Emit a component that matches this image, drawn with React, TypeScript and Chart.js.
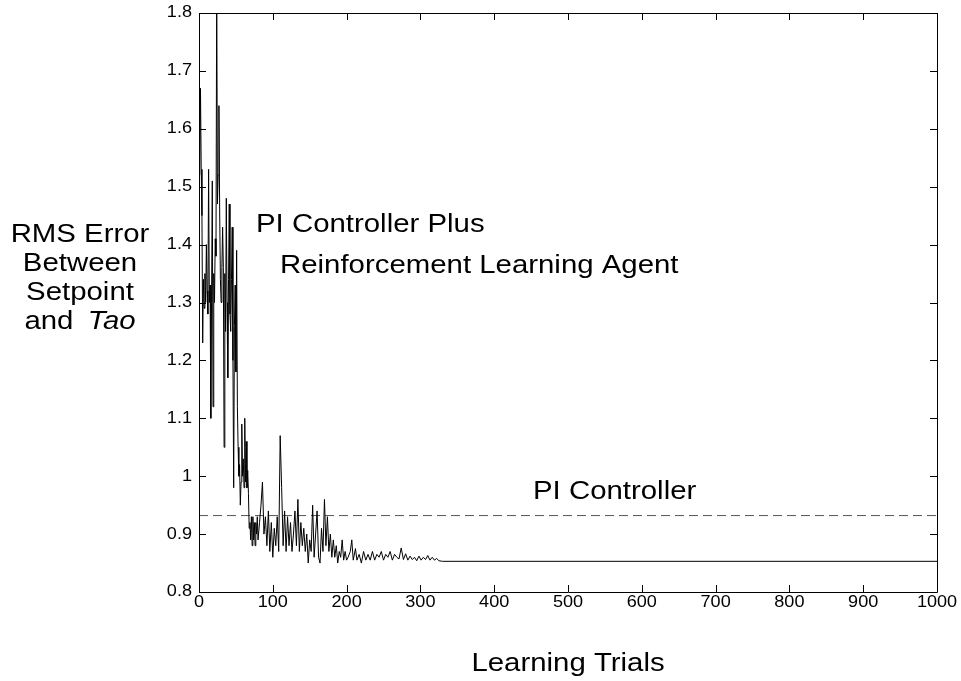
import React, { useEffect, useRef } from "react";
import { Chart, registerables } from "chart.js";

Chart.register(...registerables);

const trials = [
  1, 2, 3, 4, 5, 6, 7, 8, 9, 10, 11, 12, 13, 14, 15, 16, 17, 18, 19, 20,
  21, 22, 23, 24, 25, 26, 27, 28, 29, 30, 31, 32, 33, 34, 35, 36, 37, 38, 39, 40,
  41, 42, 43, 44, 45, 46, 47, 48, 49, 50, 51, 52, 53, 54, 55, 56, 57, 58, 59, 60,
  61, 62, 63, 64, 65, 66, 67, 68, 69, 70, 71, 72, 73, 74, 75, 76, 77, 78, 79, 80,
  82, 84, 86, 88, 90, 92, 94, 96, 98, 100, 102, 104, 106, 108, 110, 112, 114, 116, 118, 120,
  122, 124, 126, 128, 130, 132, 134, 136, 138, 140, 142, 144, 146, 148, 150, 152, 154, 156, 158, 160,
  162, 164, 166, 168, 170, 172, 174, 176, 178, 180, 182, 184, 186, 188, 190, 192, 194, 196, 198, 200,
  202, 205, 207, 209, 212, 214, 217, 220, 223, 226, 229, 232, 235, 238, 241, 244, 247, 250, 253, 256,
  259, 262, 265, 268, 271, 274, 277, 280, 283, 286, 289, 292, 295, 298, 301, 304, 307, 310, 313, 316,
  319, 322, 325, 330, 1000,
];

const rmsError = [
  1.52, 1.67, 1.53, 1.45, 1.23, 1.34, 1.29, 1.35, 1.3, 1.4, 1.32, 1.28, 1.53, 1.3, 1.33, 1.1, 1.3, 1.51, 1.12, 1.35,
  1.3, 1.41, 1.38, 1.85, 1.47, 1.52, 1.64, 1.46, 1.34, 1.3, 1.36, 1.43, 1.36, 1.05, 1.35, 1.25, 1.48, 1.3, 1.17, 1.34,
  1.47, 1.28, 1.25, 1.34, 1.43, 1.2, 0.98, 1.26, 1.33, 1.18, 1.39, 1.12, 1.05, 1.0, 1.02, 0.95, 0.99, 1.09, 1.0, 1.03,
  0.98, 1.1, 0.99, 1.06, 0.98, 1.01, 0.97, 0.91, 0.92, 0.89, 0.93, 0.88, 0.93, 0.89, 0.92, 0.88, 0.92, 0.9, 0.93, 0.89,
  0.92, 0.95, 0.99, 0.9, 0.93, 0.88, 0.94, 0.87, 0.92, 0.86, 0.91, 0.88, 0.93, 0.87, 1.07, 0.98, 0.88, 0.94, 0.87, 0.93,
  0.88, 0.92, 0.87, 0.9, 0.94, 0.88, 0.96, 0.87, 0.92, 0.88, 0.91, 0.87, 0.9, 0.85, 0.89, 0.87, 0.95, 0.86, 0.9, 0.94,
  0.86, 0.85, 0.91, 0.87, 0.96, 0.88, 0.93, 0.87, 0.9, 0.86, 0.89, 0.86, 0.88, 0.85, 0.87, 0.86, 0.89, 0.855, 0.87, 0.855,
  0.86, 0.87, 0.89, 0.855, 0.875, 0.855, 0.865, 0.85, 0.87, 0.855, 0.865, 0.855, 0.87, 0.855, 0.865, 0.86, 0.87, 0.855, 0.865, 0.86,
  0.87, 0.855, 0.865, 0.86, 0.857, 0.876, 0.856, 0.866, 0.855, 0.862, 0.856, 0.86, 0.854, 0.862, 0.855, 0.86, 0.856, 0.863, 0.855, 0.86,
  0.855, 0.858, 0.854, 0.853, 0.853,
];

const piTrials = [0, 1000];
const piError = [0.932, 0.932];

const xTickValues = [0, 100, 200, 300, 400, 500, 600, 700, 800, 900, 1000];
const xTickLabels = ["0", "100", "200", "300", "400", "500", "600", "700", "800", "900", "1000"];
const yTickValues = [0.8, 0.9, 1.0, 1.1, 1.2, 1.3, 1.4, 1.5, 1.6, 1.7, 1.8];
const yTickLabels = ["0.8", "0.9", "1", "1.1", "1.2", "1.3", "1.4", "1.5", "1.6", "1.7", "1.8"];

const yTitleLines = ["RMS Error", "Between", "Setpoint"];
const yTitleLastPlain = "and ";
const yTitleLastItalic = "Tao";
const xTitle = "Learning Trials";
const rlLabel1 = "PI Controller Plus";
const rlLabel2 = "Reinforcement Learning Agent";
const piLabel = "PI Controller";

const FAMILY = '"Liberation Sans", Arial, Helvetica, sans-serif';
const SX = 1.13;

function drawText(ctx: CanvasRenderingContext2D, text: string, x: number, y: number, align: CanvasTextAlign, font: string, baseline: CanvasTextBaseline = "alphabetic") {
  ctx.save();
  ctx.font = font;
  ctx.textAlign = align;
  ctx.textBaseline = baseline;
  ctx.fillStyle = "#000";
  ctx.translate(x, y);
  ctx.scale(SX, 1);
  ctx.fillText(text, 0, 0);
  ctx.restore();
}

const framePlugin = {
  id: "matlabFrame",
  afterDraw(chart: any) {
    const ctx: CanvasRenderingContext2D = chart.ctx;
    const { left, right, top, bottom } = chart.chartArea;
    const xs = chart.scales.x;
    const ys = chart.scales.y;
    ctx.save();
    ctx.strokeStyle = "#000";
    ctx.lineWidth = 1;
    // box
    ctx.beginPath();
    ctx.rect(Math.round(left) + 0.5, Math.round(top) + 0.5, Math.round(right - left), Math.round(bottom - top));
    ctx.stroke();
    // ticks
    const TL = 7;
    ctx.beginPath();
    xTickValues.forEach((v) => {
      const px = Math.round(xs.getPixelForValue(v)) + 0.5;
      ctx.moveTo(px, bottom);
      ctx.lineTo(px, bottom - TL);
      ctx.moveTo(px, top);
      ctx.lineTo(px, top + TL);
    });
    yTickValues.forEach((v) => {
      const py = Math.round(ys.getPixelForValue(v)) + 0.5;
      ctx.moveTo(left, py);
      ctx.lineTo(left + TL, py);
      ctx.moveTo(right, py);
      ctx.lineTo(right - TL, py);
    });
    ctx.stroke();
    ctx.restore();

    const tickFont = `16px ${FAMILY}`;
    xTickValues.forEach((v, i) => {
      drawText(ctx, xTickLabels[i], xs.getPixelForValue(v), bottom + 3, "center", tickFont, "top");
    });
    yTickValues.forEach((v, i) => {
      drawText(ctx, yTickLabels[i], left - 7, ys.getPixelForValue(v), "right", tickFont, "middle");
    });

    const labelFont = `26px ${FAMILY}`;
    const italicFont = `italic 26px ${FAMILY}`;
    const cx = 80;
    const baselines = [242, 271, 300, 329];
    yTitleLines.forEach((t, i) => drawText(ctx, t, cx, baselines[i], "center", labelFont));
    ctx.save();
    ctx.font = labelFont;
    const w1 = ctx.measureText(yTitleLastPlain).width;
    ctx.font = italicFont;
    const w2 = ctx.measureText(yTitleLastItalic).width;
    ctx.restore();
    const gap = 6;
    const total = (w1 + w2) * SX + gap;
    const sx0 = cx - total / 2;
    drawText(ctx, yTitleLastPlain, sx0, baselines[3], "left", labelFont);
    drawText(ctx, yTitleLastItalic, sx0 + w1 * SX + gap, baselines[3], "left", italicFont);

    drawText(ctx, xTitle, (left + right) / 2, 671, "center", labelFont);
    drawText(ctx, rlLabel1, 256, 232, "left", labelFont);
    drawText(ctx, rlLabel2, 280, 273, "left", labelFont);
    drawText(ctx, piLabel, 533, 499, "left", labelFont);
  },
};

export default function App() {
  const ref = useRef<HTMLCanvasElement | null>(null);
  useEffect(() => {
    document.body.style.margin = "0";
    const canvas = ref.current;
    if (!canvas) return;
    const chart = new Chart(canvas, {
      type: "line",
      data: {
        datasets: [
          {
            label: "PI Controller Plus Reinforcement Learning Agent",
            data: trials.map((t, i) => ({ x: t, y: rmsError[i] })),
            borderColor: "#000",
            borderWidth: 1,
            pointRadius: 0,
            tension: 0,
          },
          {
            label: "PI Controller",
            data: piTrials.map((t, i) => ({ x: t, y: piError[i] })),
            borderColor: "#555",
            borderWidth: 1,
            borderDash: [9, 5],
            pointRadius: 0,
          },
        ],
      },
      options: {
        responsive: false,
        animation: false,
        events: [],
        layout: { padding: { top: 13, right: 24, left: 0, bottom: 0 } },
        plugins: { legend: { display: false }, tooltip: { enabled: false } },
        scales: {
          x: {
            type: "linear",
            min: 0,
            max: 1000,
            ticks: { display: false, stepSize: 100 },
            grid: { display: false },
            border: { display: false },
            afterFit: (s: any) => {
              s.height = 89;
            },
          },
          y: {
            type: "linear",
            min: 0.8,
            max: 1.8,
            ticks: { display: false, stepSize: 0.1 },
            grid: { display: false },
            border: { display: false },
            afterFit: (s: any) => {
              s.width = 199;
            },
          },
        },
      },
      plugins: [framePlugin],
    });
    return () => chart.destroy();
  }, []);
  return (
    <div style={{ width: 961, height: 681, background: "#fff" }}>
      <canvas ref={ref} width={961} height={681} style={{ display: "block" }} />
    </div>
  );
}
